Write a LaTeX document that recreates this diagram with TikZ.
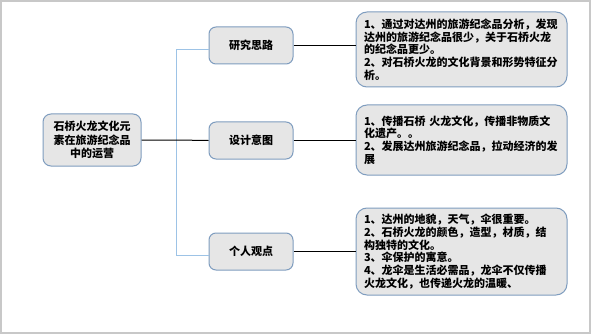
\documentclass[tikz,border=0pt]{standalone}
\usepackage{fontspec}
\setmainfont{Noto Sans CJK SC}
\definecolor{framegray}{HTML}{C8C8C8}
\definecolor{boxfill}{HTML}{E6E6E6}
\definecolor{boxdraw}{HTML}{7F9DBF}
\definecolor{spineblue}{HTML}{9DC3E6}
\tikzset{
  basebox/.style={draw=boxdraw, fill=boxfill, line width=1pt, font=\fontsize{11}{12.7}\selectfont\bfseries, inner sep=0pt},
  rootbox/.style={basebox, rounded corners=8pt, minimum width=98pt, minimum height=52pt, align=center, font=\fontsize{11}{13.5}\selectfont\bfseries},
  midbox/.style={basebox, rounded corners=7pt, minimum width=84pt, minimum height=37pt},
  infobox/.style={basebox, rounded corners=11pt, minimum width=211pt, text width=195pt, inner xsep=8pt, align=left},
  blueline/.style={draw=spineblue, line width=1pt},
  blackline/.style={draw=black, line width=1pt},
}
\begin{document}
\begin{tikzpicture}[x=1pt,y=-1pt]
\fill[framegray] (0,0) rectangle (591,334);
\fill[white] (2,2) rectangle (588.5,331.5);
\useasboundingbox (0,0) rectangle (591,334);

\coordinate (s) at (176,140);
\coordinate (stop) at (176,50);
\coordinate (sbot) at (176,255);

\node[rootbox] (root) at (92,140) {石桥火龙文化元\\素在旅游纪念品\\中的运营};
\node[midbox] (m1) at (251,45.5) {研究思路};
\node[midbox] (m2) at (251,140.5) {设计意图};
\node[midbox] (m3) at (251,251.5) {个人观点};

\node[infobox, minimum height=75pt] (r1) at (461.5,49.5) {1、通过对达州的旅游纪念品分析，发现\\达州的旅游纪念品很少，关于石桥火龙\\的纪念品更少。\\2、对石桥火龙的文化背景和形势特征分\\析。};
\node[infobox, minimum height=70pt] (r2) at (461.5,140) {1、传播石桥 火龙文化，传播非物质文\\化遗产。。\\2、发展达州旅游纪念品，拉动经济的发\\展};
\node[infobox, minimum height=87pt] (r3) at (461.5,251.5) {1、达州的地貌，天气，伞很重要。\\2、石桥火龙的颜色，造型，材质，结\\构独特的文化。\\3、伞保护的寓意。\\4、龙伞是生活必需品，龙伞不仅传播\\火龙文化，也传递火龙的温暖、};

\draw[blueline] (stop) -- (sbot);
\draw[blueline] (stop) -- (stop -| m1.west);
\draw[blueline] (sbot) -- (sbot -| m3.west);
\draw[blackline] (root.east) -- (s) -- (m2.west);

\draw[blackline] (m1.east) -- (m1.east -| r1.west);
\draw[blackline] (m2.east) -- (m2.east -| r2.west);
\draw[blackline] (m3.east) -- (m3.east -| r3.west);
\end{tikzpicture}
\end{document}
